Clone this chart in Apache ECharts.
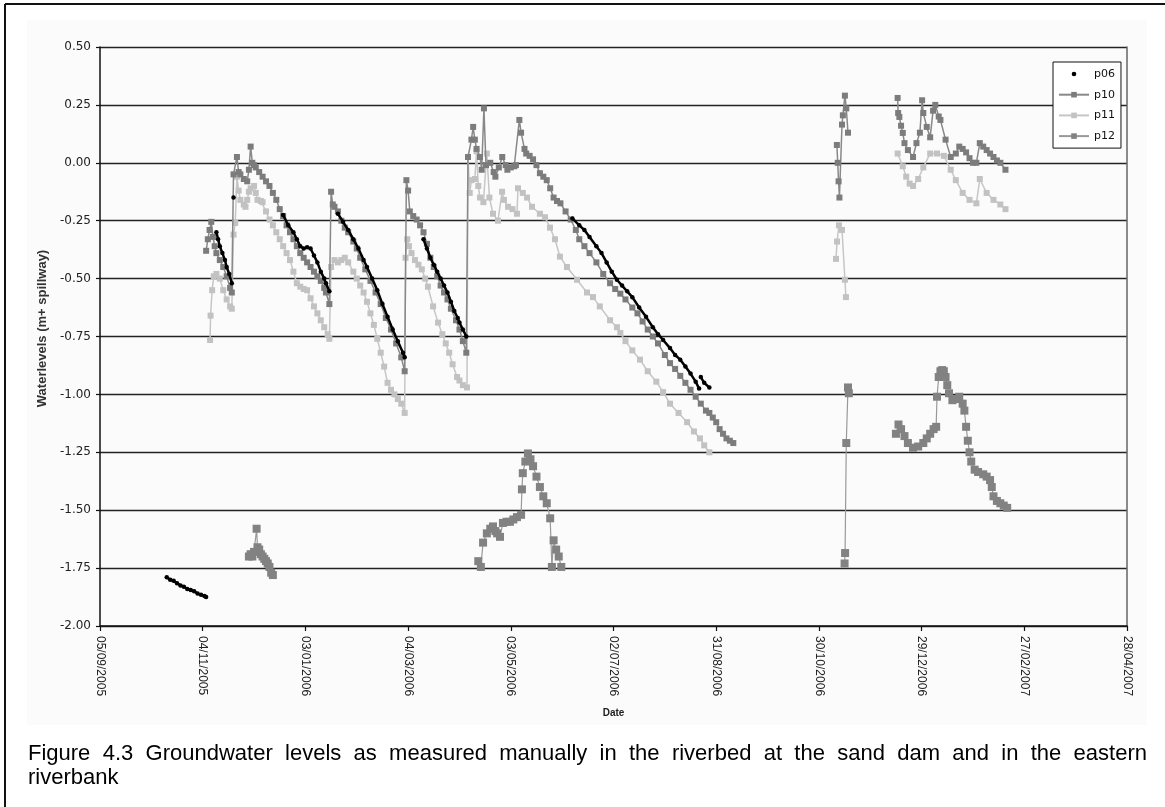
<!DOCTYPE html>
<html>
<head>
<meta charset="utf-8">
<script src="https://cdn.jsdelivr.net/npm/echarts@6/dist/echarts.min.js"></script>
<style>
  html, body { margin: 0; padding: 0; background: #ffffff; }
  #chart { width: 1165px; height: 807px; }
</style>
</head>
<body>
<div id="chart"></div>
<script>
// ---------------- DATA ----------------
// x = days since 05/09/2005 (first tick), y = water level (m + spillway)
const tickLabels = ['05/09/2005','04/11/2005','03/01/2006','04/03/2006','03/05/2006','02/07/2006','31/08/2006','30/10/2006','29/12/2006','27/02/2007','28/04/2007'];
const yTicks = { min: -2.0, max: 0.5, step: 0.25 };

const p06Segments = [
  [[39,-1.79],[41,-1.80],[43,-1.805],[45,-1.815],[47,-1.825],[49,-1.83],[51,-1.84],[53,-1.845],[55,-1.85],[57,-1.86],[59,-1.865],[61,-1.87],[62,-1.875]],
  [[68,-0.30],[69,-0.33],[70,-0.36],[71.5,-0.39],[73,-0.42],[74,-0.45],[75.5,-0.48],[77,-0.52]],
  [[78,-0.15]],
  [[107,-0.225],[110,-0.27],[113,-0.30],[115,-0.33],[117,-0.36],[119,-0.37],[121,-0.365],[123,-0.37],[125,-0.40],[127,-0.43],[129,-0.47],[131,-0.50],[132,-0.52],[134,-0.555]],
  [[139,-0.22],[142,-0.255],[145,-0.29],[148,-0.33],[151,-0.37],[154,-0.42],[156,-0.45],[159,-0.50],[162,-0.55],[165,-0.61],[168,-0.665],[171,-0.72],[174,-0.77],[177,-0.82],[178,-0.84]],
  [[189,-0.33],[191,-0.37],[193,-0.41],[195,-0.44],[197,-0.47],[199,-0.50],[201,-0.53],[203,-0.56],[205,-0.60],[207,-0.64],[209,-0.67],[210,-0.69],[212,-0.72],[214,-0.75]],
  [[276,-0.24],[280,-0.27],[283,-0.29],[286,-0.32],[290,-0.36],[293,-0.39],[296,-0.43],[299,-0.47],[302,-0.505],[305,-0.53],[308,-0.555],[311,-0.58],[315,-0.625],[319,-0.665],[323,-0.71],[326,-0.74],[329,-0.765],[333,-0.80],[336,-0.83],[339,-0.85],[342,-0.88],[345,-0.91],[348,-0.945],[350,-0.975]],
  [[351,-0.925],[353,-0.95],[356,-0.97]]
];

const p10Segments = [
  [[62,-0.38],[63,-0.33],[64,-0.29],[65,-0.255],[66,-0.32],[67,-0.36],[68,-0.39],[70,-0.42],[72,-0.45],[74,-0.49],[76,-0.54],[77,-0.56],
   [78,-0.05],[80,0.025],[81,-0.04],[82,-0.05],[84,-0.07],[86,-0.08],[87,-0.03],[88,0.07],[89,0.0],[90,-0.01],[91,-0.02],[93,-0.04],[95,-0.06],[97,-0.08],[99,-0.10],[101,-0.13],[103,-0.16],[105,-0.20],[107,-0.23],[109,-0.27],[111,-0.30],[113,-0.33],[115,-0.36],[117,-0.39],[119,-0.41],[121,-0.43],[123,-0.45],[125,-0.47],[127,-0.49],[129,-0.51],[131,-0.54],[132,-0.56],[134,-0.61],
   [135,-0.125],[136,-0.18],[137,-0.19],[139,-0.21],[141,-0.25],[143,-0.28],[145,-0.30],[148,-0.34],[150,-0.37],[152,-0.41],[155,-0.46],[158,-0.51],[161,-0.56],[164,-0.61],[167,-0.67],[170,-0.72],[173,-0.78],[176,-0.84],[178,-0.90],
   [179,-0.075],[180,-0.12],[181,-0.21],[183,-0.23],[185,-0.245],[187,-0.27],[189,-0.30],[191,-0.35],[193,-0.41],[195,-0.45],[197,-0.49],[199,-0.53],[201,-0.56],[203,-0.59],[205,-0.63],[208,-0.68],[210,-0.72],[212,-0.77],[214,-0.82],
   [215,0.025],[217,0.10],[218,0.155],[219,0.10],[220,0.06],[222,0.025],[223,-0.03],[224.3,0.235],[225.5,-0.01],[228,0.0],[230,-0.04],[231,-0.06],[233,-0.02],[235,0.025],[237,-0.01],[238,-0.03],[240,-0.02],[242,-0.015],[243,-0.01],[245,0.185],[246,0.13],[248,0.06],[249,0.04],[251,0.03],[253,0.015],[255,-0.01],[257,-0.045],[259,-0.06],[261,-0.075],[263,-0.11],[265,-0.15],[267,-0.165],[269,-0.175],[272,-0.21],[275,-0.245],[278,-0.29],[280,-0.33],[283,-0.36],[286,-0.39],[290,-0.43],[294,-0.48],[298,-0.52],[301,-0.545],[304,-0.565],[307,-0.59],[311,-0.625],[314,-0.65],[317,-0.685],[320,-0.72],[323,-0.75],[326,-0.78],[330,-0.83],[333,-0.865],[336,-0.89],[339,-0.92],[342,-0.95],[345,-0.98],[348,-1.01],[351,-1.04],[354,-1.07],[356,-1.08],[358,-1.10],[360,-1.12],[362,-1.15],[364,-1.17],[366,-1.19],[368,-1.20],[370,-1.21]],
  [[430.5,0.077],[431,0.0],[431.5,-0.08],[432,-0.15],[433.5,0.165],[434,0.205],[435.2,0.29],[436,0.235],[437,0.13]],
  [[466,0.28],[466.3,0.215],[467,0.198],[468,0.16],[469,0.129],[470,0.085],[472,0.055],[475,0.025],[477,0.085],[479,0.13],[480.3,0.27],[481,0.215],[483,0.155],[485,0.11],[486.7,0.225],[488,0.25],[490,0.20],[491,0.185],[494,0.10],[497,0.025],[500,0.04],[502,0.07],[504,0.06],[506,0.045],[508,0.02],[510,0.0],[512,0.0],[514,0.085],[516,0.07],[518,0.055],[520,0.04],[522,0.025],[524,0.01],[526,0.0],[529,-0.03]]
];

const p11Segments = [
  [[64.3,-0.765],[64.6,-0.66],[65.5,-0.55],[66.5,-0.49],[68,-0.48],[70,-0.50],[72,-0.55],[74,-0.59],[76,-0.62],[77,-0.63],
   [78,-0.31],[79,-0.26],[80,-0.06],[81,-0.12],[82,-0.16],[84,-0.18],[85,-0.19],[86,-0.16],[87,-0.125],[88,-0.11],[90,-0.10],[91,-0.13],[92,-0.16],[94,-0.165],[95,-0.17],[97,-0.21],[99,-0.245],[101,-0.27],[103,-0.30],[105,-0.33],[107,-0.36],[109,-0.39],[111,-0.42],[113,-0.47],[115,-0.52],[117,-0.535],[119,-0.545],[121,-0.55],[123,-0.585],[125,-0.62],[127,-0.65],[129,-0.68],[131,-0.71],[133,-0.74],[134,-0.76],
   [135,-0.45],[137,-0.42],[139,-0.43],[141,-0.42],[143,-0.41],[145,-0.43],[148,-0.47],[150,-0.50],[152,-0.53],[154,-0.56],[156,-0.60],[158,-0.65],[160,-0.70],[162,-0.76],[164,-0.82],[166,-0.88],[168,-0.95],[170,-0.98],[172,-1.00],[174,-1.02],[176,-1.04],[178,-1.08],
   [178.5,-0.41],[179.5,-0.33],[180.5,-0.36],[182,-0.39],[184,-0.42],[186,-0.44],[188,-0.46],[190,-0.50],[191.6,-0.535],[194.6,-0.62],[197.5,-0.69],[200,-0.74],[202,-0.78],[204,-0.82],[206,-0.87],[208.6,-0.925],[210,-0.94],[212,-0.96],[214.4,-0.97],
   [215,0.025],[216,-0.13],[217,-0.075],[219,-0.07],[220,0.05],[221,-0.10],[222,-0.15],[224,-0.17],[226,0.04],[227.5,-0.15],[229.6,-0.22],[232.5,-0.25],[234.9,-0.125],[236,-0.16],[238.4,-0.19],[241,-0.20],[243.6,-0.22],[244.2,-0.11],[247,-0.13],[249.5,-0.15],[252.4,-0.19],[257,-0.22],[260,-0.235],[262.9,-0.28],[265.8,-0.33],[268.7,-0.405],[272.8,-0.45],[278.7,-0.505],[284.5,-0.56],[288,-0.58],[292,-0.62],[298,-0.68],[302,-0.71],[304,-0.735],[307,-0.77],[311,-0.81],[315.5,-0.85],[320,-0.90],[325,-0.945],[329,-0.99],[333,-1.04],[338,-1.08],[343,-1.12],[347,-1.16],[350.5,-1.19],[353,-1.22],[356,-1.25]],
  [[430,-0.415],[430.6,-0.34],[431.7,-0.27],[433.5,-0.29],[435.2,-0.505],[435.8,-0.58]],
  [[466,0.04],[469,-0.015],[471,-0.06],[473,-0.09],[475,-0.10],[478,-0.07],[481,-0.02],[485,0.04],[489,0.04],[493,0.03],[497,-0.03],[500,-0.075],[504,-0.13],[508,-0.16],[512,-0.175],[514,-0.07],[518,-0.13],[522,-0.16],[526,-0.18],[529,-0.20]]
];

const p12Segments = [
  [[87,-1.70],[88,-1.69],[89,-1.70],[90,-1.68],[91.5,-1.58],[92,-1.66],[93,-1.67],[94,-1.69],[95,-1.70],[96,-1.71],[97,-1.72],[98,-1.73],[99,-1.745],[100,-1.77],[101,-1.78]],
  [[221,-1.72],[222.5,-1.745],[223.8,-1.64],[226,-1.60],[228,-1.58],[229.6,-1.57],[231,-1.59],[232,-1.60],[233.7,-1.615],[235.4,-1.555],[237.5,-1.55],[239.5,-1.55],[241.5,-1.54],[243.6,-1.53],[246,-1.52],[246.5,-1.41],[247,-1.34],[248.5,-1.29],[250,-1.255],[251.5,-1.28],[253,-1.31],[255,-1.355],[257,-1.40],[259,-1.44],[261,-1.47],[263,-1.535],[264,-1.745],[265,-1.63],[266.5,-1.67],[268,-1.70],[269.5,-1.745]],
  [[435,-1.73],[435.3,-1.685],[436,-1.21],[437,-0.97],[437.5,-0.995]],
  [[465,-1.17],[466.5,-1.13],[468,-1.15],[470,-1.18],[472,-1.21],[475,-1.23],[478,-1.225],[481,-1.21],[483,-1.19],[485,-1.17],[487,-1.15],[488.5,-1.14],[489,-1.01],[490,-0.925],[491,-0.90],[492,-0.895],[493,-0.90],[494,-0.925],[495,-0.96],[496,-0.995],[498,-1.025],[500,-1.02],[502,-1.01],[504,-1.04],[505,-1.07],[506,-1.14],[507,-1.20],[508,-1.25],[509,-1.29],[511,-1.325],[513,-1.335],[516,-1.345],[518,-1.355],[520,-1.37],[521,-1.40],[522,-1.44],[524,-1.46],[526,-1.47],[528,-1.48],[530,-1.49]]
];

const xAxisTitle = 'Date';
const yAxisTitle = 'Waterlevels (m+ spillway)';
const captionLine1 = 'Figure 4.3 Groundwater levels as measured manually in the riverbed at the sand dam and in the eastern';
const captionLine2 = 'riverbank';

// ---------------- BUILD ----------------
function withGaps(segs) {
  const out = [];
  segs.forEach((s, i) => {
    if (i > 0) out.push([s[0][0], null]);
    s.forEach(p => out.push(p));
  });
  return out;
}

const chart = echarts.init(document.getElementById('chart'), null, { renderer: 'canvas' });

// justified caption words
const capFont = '22px "Liberation Sans", Arial, sans-serif';
const mctx = document.createElement('canvas').getContext('2d');
mctx.font = capFont;
const capLeft = 28, capRight = 1147;
const words = captionLine1.split(' ');
const widths = words.map(w => mctx.measureText(w).width);
const totalW = widths.reduce((a, b) => a + b, 0);
const gapW = (capRight - capLeft - totalW) / (words.length - 1);
const captionEls = [];
let cx = capLeft;
words.forEach((w, i) => {
  captionEls.push({ type: 'text', x: cx, y: 754, silent: true,
    style: { text: w, font: capFont, fill: '#000', verticalAlign: 'middle', align: 'left' } });
  cx += widths[i] + gapW;
});
captionEls.push({ type: 'text', x: capLeft, y: 778, silent: true,
  style: { text: captionLine2, font: capFont, fill: '#000', verticalAlign: 'middle', align: 'left' } });

const dotSvg = 'image://data:image/svg+xml;charset=utf-8,' + encodeURIComponent(
  '<svg xmlns="http://www.w3.org/2000/svg" width="30" height="7"><circle cx="15" cy="3.5" r="2.3" fill="#000"/></svg>');

const option = {
  animation: false,
  backgroundColor: '#ffffff',
  grid: { left: 100, right: 38, top: 47, bottom: 181, containLabel: false },
  xAxis: {
    type: 'value', min: 0, max: 600, interval: 60,
    axisLine: { show: true, onZero: false, lineStyle: { color: '#111', width: 1.5 } },
    axisTick: { show: true, length: 5, lineStyle: { color: '#111', width: 1.2 } },
    splitLine: { show: false },
    axisLabel: {
      rotate: -90, margin: 10, color: '#222', fontSize: 12,
      fontFamily: '"Liberation Sans", Arial, sans-serif',
      formatter: v => tickLabels[Math.round(v / 60)] || ''
    },
    name: xAxisTitle, nameLocation: 'middle', nameGap: 82,
    nameTextStyle: { fontFamily: '"Liberation Sans", Arial, sans-serif', fontSize: 10, fontWeight: 'bold', color: '#222' }
  },
  yAxis: [{
    type: 'value', min: yTicks.min, max: yTicks.max, interval: yTicks.step,
    axisLine: { show: true, onZero: false, lineStyle: { color: '#111', width: 1.5 } },
    axisTick: { show: true, length: 4, lineStyle: { color: '#111', width: 1.2 } },
    splitLine: { show: true, lineStyle: { color: '#222', width: 1.3 } },
    axisLabel: {
      margin: 9, color: '#222', fontSize: 12,
      fontFamily: '"DejaVu Sans", sans-serif',
      formatter: v => (Math.abs(v) < 1e-9 ? 0 : v).toFixed(2)
    },
    name: yAxisTitle, nameLocation: 'middle', nameGap: 49,
    nameTextStyle: { fontFamily: '"Liberation Sans", Arial, sans-serif', fontSize: 13, fontWeight: 'bold', color: '#333', padding: [0, 0, 0, 16] }
  }, {
    type: 'value', position: 'right', min: yTicks.min, max: yTicks.max, interval: yTicks.step,
    axisLine: { show: true, onZero: false, lineStyle: { color: '#666', width: 1.5 } },
    axisTick: { show: false }, axisLabel: { show: false }, splitLine: { show: false }
  }],
  legend: {
    orient: 'vertical', left: 1053, top: 62,
    padding: [5, 6, 5, 5], itemWidth: 30, itemHeight: 7, itemGap: 6.7,
    backgroundColor: '#ffffff', borderColor: '#111', borderWidth: 1, borderRadius: 0,
    selectedMode: false,
    textStyle: { fontFamily: '"DejaVu Sans", sans-serif', fontSize: 11, color: '#111', lineHeight: 14 },
    data: [{ name: 'p06', icon: dotSvg }, 'p10', 'p11', 'p12']
  },
  graphic: [
    { type: 'rect', z: -10, silent: true, shape: { x: 27, y: 20, width: 1120, height: 705 }, style: { fill: '#fbfbfb' } },
    { type: 'line', silent: true, shape: { x1: 5, y1: 4, x2: 1165, y2: 4 }, style: { stroke: '#111', lineWidth: 2 } },
    { type: 'line', silent: true, shape: { x1: 5, y1: 4, x2: 5, y2: 807 }, style: { stroke: '#111', lineWidth: 2 } }
  ].concat(captionEls),
  series: [
    { name: 'p11', type: 'line', data: withGaps(p11Segments), connectNulls: false,
      symbol: 'rect', symbolSize: 6, itemStyle: { color: '#c2c2c2' },
      lineStyle: { color: '#c6c6c6', width: 1.5 }, z: 2 },
    { name: 'p10', type: 'line', data: withGaps(p10Segments), connectNulls: false,
      symbol: 'rect', symbolSize: 6, itemStyle: { color: '#7c7c7c' },
      lineStyle: { color: '#888888', width: 1.5 }, z: 3 },
    { name: 'p12', type: 'line', data: withGaps(p12Segments), connectNulls: false,
      symbol: 'rect', symbolSize: 8, itemStyle: { color: '#828282' },
      lineStyle: { color: '#999999', width: 1.2 }, z: 4 },
    { name: 'p06', type: 'line', data: withGaps(p06Segments), connectNulls: false,
      symbol: 'circle', symbolSize: 4.5, itemStyle: { color: '#000' },
      lineStyle: { color: '#000', width: 2.5 }, z: 5 }
  ]
};
chart.setOption(option);
</script>
</body>
</html>
